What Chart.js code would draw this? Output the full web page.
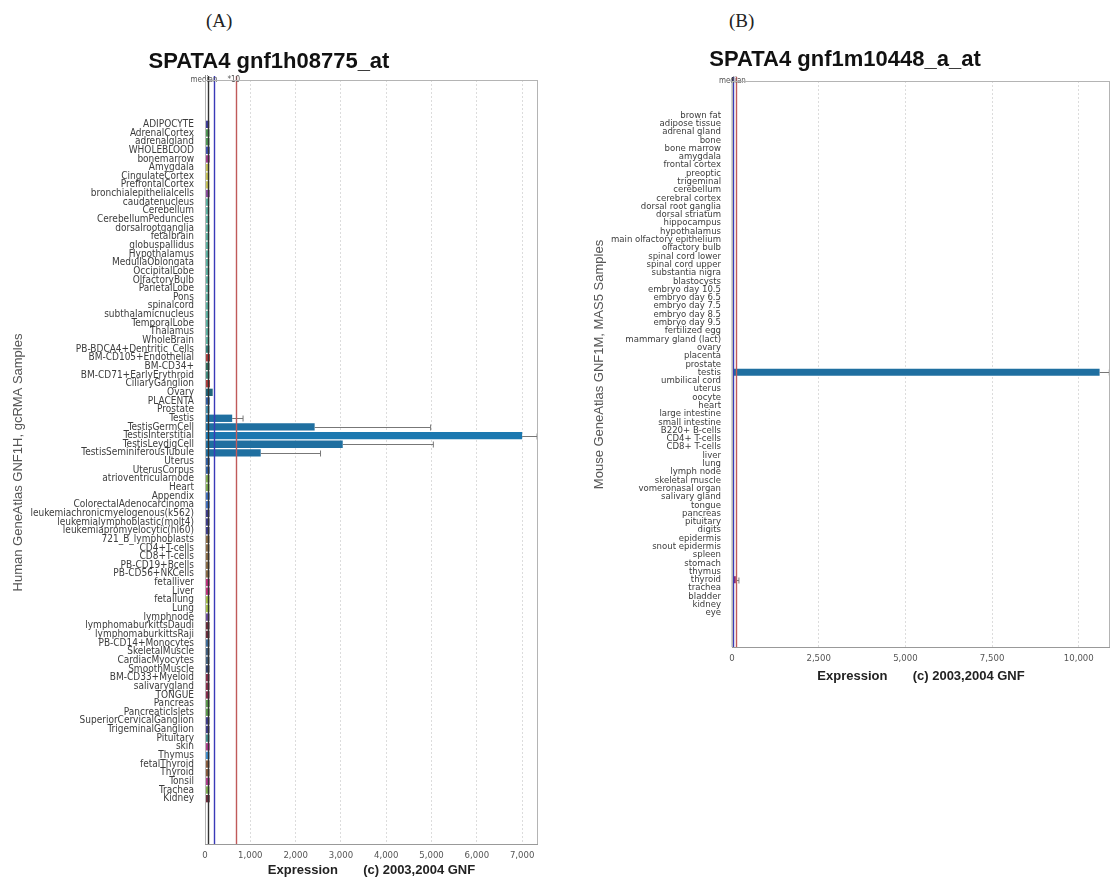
<!DOCTYPE html>
<html>
<head>
<meta charset="utf-8">
<script src="https://cdn.jsdelivr.net/npm/chart.js@4.4.1/dist/chart.umd.min.js"></script>
<style>
  body { margin: 0; background: #fff; width: 1111px; height: 882px; position: relative; overflow: hidden; }
  .panel { position: absolute; top: 0; height: 882px; }
  .tag { position: absolute; font: 19px "Liberation Serif", "DejaVu Serif", serif; color: #222; }
</style>
</head>
<body>
<div class="tag" style="left:206px;top:10px">(A)</div>
<div class="tag" style="left:729px;top:10px">(B)</div>
<div class="panel" style="left:0;width:560px"><canvas id="humanChart"></canvas></div>
<div class="panel" style="left:560px;width:551px"><canvas id="mouseChart"></canvas></div>

<script>
// ---- Human GNF1H data (panel A) ----
const humanTissues = [
  'ADIPOCYTE', 'AdrenalCortex', 'adrenalgland', 'WHOLEBLOOD', 'bonemarrow', 'Amygdala',
  'CingulateCortex', 'PrefrontalCortex', 'bronchialepithelialcells', 'caudatenucleus',
  'Cerebellum', 'CerebellumPeduncles', 'dorsalrootganglia', 'fetalbrain', 'globuspallidus',
  'Hypothalamus', 'MedullaOblongata', 'OccipitalLobe', 'OlfactoryBulb', 'ParietalLobe',
  'Pons', 'spinalcord', 'subthalamicnucleus', 'TemporalLobe', 'Thalamus', 'WholeBrain',
  'PB-BDCA4+Dentritic_Cells', 'BM-CD105+Endothelial', 'BM-CD34+', 'BM-CD71+EarlyErythroid',
  'CiliaryGanglion', 'Ovary', 'PLACENTA', 'Prostate', 'Testis', 'TestisGermCell',
  'TestisInterstitial', 'TestisLeydigCell', 'TestisSeminiferousTubule', 'Uterus',
  'UterusCorpus', 'atrioventricularnode', 'Heart', 'Appendix', 'ColorectalAdenocarcinoma',
  'leukemiachronicmyelogenous(k562)', 'leukemialymphoblastic(molt4)',
  'leukemiapromyelocytic(hl60)', '721_B_lymphoblasts', 'CD4+T-cells', 'CD8+T-cells',
  'PB-CD19+Bcells', 'PB-CD56+NKCells', 'fetalliver', 'Liver', 'fetallung', 'Lung',
  'lymphnode', 'lymphomaburkittsDaudi', 'lymphomaburkittsRaji', 'PB-CD14+Monocytes',
  'SkeletalMuscle', 'CardiacMyocytes', 'SmoothMuscle', 'BM-CD33+Myeloid', 'salivarygland',
  'TONGUE', 'Pancreas', 'PancreaticIslets', 'SuperiorCervicalGanglion', 'TrigeminalGanglion',
  'Pituitary', 'skin', 'Thymus', 'fetalThyroid', 'Thyroid', 'Tonsil', 'Trachea', 'Kidney'
];
const humanValues = [
  95, 100, 100, 105, 105, 95, 95, 95, 105, 95,
  95, 95, 100, 95, 95, 95, 95, 95, 95, 95,
  95, 95, 95, 95, 95, 95, 100, 110, 100, 100,
  110, 170, 105, 100, 600, 2420, 7000, 3040, 1230, 105,
  105, 100, 100, 105, 105, 100, 100, 100, 100, 100,
  100, 100, 100, 105, 105, 100, 100, 100, 100, 100,
  100, 100, 100, 100, 100, 100, 100, 105, 105, 100,
  100, 100, 105, 100, 100, 100, 105, 100, 105
];
const humanErrors = [
  0, 0, 0, 0, 0, 0, 0, 0, 0, 0,
  0, 0, 0, 0, 0, 0, 0, 0, 0, 0,
  0, 0, 0, 0, 0, 0, 0, 0, 0, 0,
  0, 0, 0, 0, 240, 2560, 330, 2000, 1320, 0,
  0, 0, 0, 0, 0, 0, 0, 0, 0, 0,
  0, 0, 0, 0, 0, 0, 0, 0, 0, 0,
  0, 0, 0, 0, 0, 0, 0, 0, 0, 0,
  0, 0, 0, 0, 0, 0, 0, 0, 0
];
const humanColors = [
  '#3c3c9c', '#4f9a55', '#4f9a55', '#3f4fb0', '#a03c8c', '#c9c455', '#c9c455', '#c9c455', '#8c4ca0', '#5cb5a5',
  '#5cb5a5', '#5cb5a5', '#5cb5a5', '#5cb5a5', '#5cb5a5', '#5cb5a5', '#5cb5a5', '#5cb5a5', '#5cb5a5', '#5cb5a5',
  '#5cb5a5', '#5cb5a5', '#5cb5a5', '#5cb5a5', '#5cb5a5', '#5cb5a5', '#2f7f7a', '#b03c3c', '#2f6f5f', '#3f8f80',
  '#b03c3c', '#1e6478', '#2f5fa5', '#3f8faf', '#1f6fa0', '#1f6fa0', '#1b78b0', '#1f6fa0', '#1f6fa0', '#2f5fa5',
  '#2f5fa5', '#7faf4f', '#7faf4f', '#3f6fc0', '#3f6fc0', '#3c3c8c', '#3c3c8c', '#3c3c8c', '#8c6c44', '#8c6c44',
  '#8c6c44', '#8c6c44', '#8c6c44', '#c0307c', '#c0307c', '#a5c045', '#a5c045', '#6c4ca0', '#6c2c3c', '#6c2c3c',
  '#3f6f9f', '#3f5f7f', '#3f5f7f', '#2f3f6f', '#8c2c4c', '#8c2c4c', '#8c2c4c', '#5c9c4c', '#5c9c4c', '#3c3c8c',
  '#3c3c8c', '#3f8f8f', '#b03c8c', '#3f8fcf', '#8c5c3c', '#8c5c3c', '#b03c8c', '#7faf4f', '#6c2c3c'
];
const humanTicks = [0, 1000, 2000, 3000, 4000, 5000, 6000, 7000];
const humanMedian = 68;

// ---- Mouse GNF1M data (panel B) ----
const mouseTissues = [
  'brown fat', 'adipose tissue', 'adrenal gland', 'bone', 'bone marrow', 'amygdala',
  'frontal cortex', 'preoptic', 'trigeminal', 'cerebellum', 'cerebral cortex',
  'dorsal root ganglia', 'dorsal striatum', 'hippocampus', 'hypothalamus',
  'main olfactory epithelium', 'olfactory bulb', 'spinal cord lower', 'spinal cord upper',
  'substantia nigra', 'blastocysts', 'embryo day 10.5', 'embryo day 6.5', 'embryo day 7.5',
  'embryo day 8.5', 'embryo day 9.5', 'fertilized egg', 'mammary gland (lact)', 'ovary',
  'placenta', 'prostate', 'testis', 'umbilical cord', 'uterus', 'oocyte', 'heart',
  'large intestine', 'small intestine', 'B220+ B-cells', 'CD4+ T-cells', 'CD8+ T-cells',
  'liver', 'lung', 'lymph node', 'skeletal muscle', 'vomeronasal organ', 'salivary gland',
  'tongue', 'pancreas', 'pituitary', 'digits', 'epidermis', 'snout epidermis', 'spleen',
  'stomach', 'thymus', 'thyroid', 'trachea', 'bladder', 'kidney', 'eye'
];
const mouseValues = [
  25, 25, 25, 25, 25, 25, 25, 25, 25, 25,
  25, 25, 25, 25, 25, 25, 25, 25, 25, 25,
  25, 25, 25, 25, 25, 25, 25, 25, 25, 25,
  25, 10600, 25, 25, 25, 25, 25, 25, 25, 25,
  25, 25, 25, 25, 25, 25, 25, 25, 25, 25,
  25, 25, 25, 25, 25, 25, 110, 25, 25, 25,
  25
];
const mouseErrors = [
  0, 0, 0, 0, 0, 0, 0, 0, 0, 0,
  0, 0, 0, 0, 0, 0, 0, 0, 0, 0,
  0, 0, 0, 0, 0, 0, 0, 0, 0, 0,
  0, 280, 0, 0, 0, 0, 0, 0, 0, 0,
  0, 0, 0, 0, 0, 0, 0, 0, 0, 0,
  0, 0, 0, 0, 0, 0, 90, 0, 0, 0,
  0
];
const mouseColors = [
  '#8c5c3c', '#3c3c9c', '#4f9a55', '#a03c8c', '#a03c8c', '#5cb5a5', '#5cb5a5', '#5cb5a5', '#5cb5a5', '#5cb5a5',
  '#5cb5a5', '#5cb5a5', '#5cb5a5', '#5cb5a5', '#5cb5a5', '#5cb5a5', '#5cb5a5', '#5cb5a5', '#5cb5a5', '#5cb5a5',
  '#c9c455', '#c9c455', '#c9c455', '#c9c455', '#c9c455', '#c9c455', '#c9c455', '#1e6478', '#1e6478', '#1e6478',
  '#1e6478', '#1f6fa0', '#2f5fa5', '#2f5fa5', '#2f5fa5', '#7faf4f', '#3f6fc0', '#3f6fc0', '#8c6c44', '#8c6c44',
  '#8c6c44', '#c0307c', '#a5c045', '#6c4ca0', '#3f5f7f', '#8c2c4c', '#8c2c4c', '#8c2c4c', '#5c9c4c', '#3f8f8f',
  '#b03c8c', '#b03c8c', '#b03c8c', '#3f8fcf', '#3f6fc0', '#3f8fcf', '#8c2c6c', '#7faf4f', '#6c2c3c', '#6c2c3c',
  '#5cb5a5'
];
const mouseTicks = [0, 2500, 5000, 7500, 10000];
const mouseMedian = 11;

// ---- plugins ----
const framePlugin = {
  id: 'frame',
  afterDraw(chart) {
    const { ctx, chartArea: a } = chart;
    ctx.save();
    ctx.strokeStyle = '#b4b4b4';
    ctx.lineWidth = 1;
    ctx.strokeRect(a.left + 0.5, a.top + 0.5, a.width - 1, a.height - 1);
    ctx.strokeStyle = '#999';
    ctx.beginPath();
    ctx.moveTo(a.left, a.bottom - 0.5);
    ctx.lineTo(a.right, a.bottom - 0.5);
    ctx.stroke();
    ctx.restore();
  }
};

const errorBarPlugin = {
  id: 'errorBars',
  afterDatasetsDraw(chart, args, opts) {
    const { ctx, scales: { x } } = chart;
    const meta = chart.getDatasetMeta(0);
    ctx.save();
    ctx.strokeStyle = '#777';
    ctx.lineWidth = 1;
    opts.errors.forEach((err, i) => {
      if (!err) return;
      const v = chart.data.datasets[0].data[i].x;
      const x0 = x.getPixelForValue(v);
      const x1 = x.getPixelForValue(v + err);
      const py = Math.round(meta.data[i].y) + 0.5;
      ctx.beginPath();
      ctx.moveTo(x0, py);
      ctx.lineTo(x1, py);
      ctx.moveTo(x1, py - 3);
      ctx.lineTo(x1, py + 3);
      ctx.stroke();
    });
    ctx.restore();
  }
};

const medianPlugin = {
  id: 'medianLines',
  afterDatasetsDraw(chart, args, opts) {
    const { ctx, chartArea: a, scales: { x } } = chart;
    ctx.save();
    ctx.font = '8px "DejaVu Sans Condensed", sans-serif';
    ctx.textBaseline = 'middle';
    ctx.textAlign = 'center';
    opts.lines.forEach(l => {
      const px = Math.round(x.getPixelForValue(l.value)) + 0.5;
      ctx.strokeStyle = l.color;
      ctx.lineWidth = 1.4;
      ctx.beginPath();
      ctx.moveTo(px, a.top - 4);
      ctx.lineTo(px, a.bottom - 1);
      ctx.stroke();
    });
    opts.lines.forEach(l => {
      if (!l.label) return;
      const px = x.getPixelForValue(l.value);
      ctx.fillStyle = '#555';
      ctx.fillText(l.label, px + (l.dx || 0), a.top);
    });
    ctx.restore();
  }
};

function buildChart(canvasId, o) {
  const points = o.values.map((v, i) => ({ x: v, y: i }));
  return new Chart(document.getElementById(canvasId), {
    type: 'bar',
    data: {
      datasets: [{
        data: points,
        backgroundColor: o.colors,
        borderWidth: 0,
        barPercentage: 0.85,
        categoryPercentage: 1
      }]
    },
    plugins: [framePlugin, errorBarPlugin, medianPlugin],
    options: {
      indexAxis: 'y',
      responsive: true,
      maintainAspectRatio: false,
      animation: false,
      layout: { padding: o.padding },
      plugins: {
        legend: { display: false },
        tooltip: { enabled: false },
        title: {
          display: true,
          text: o.title,
          color: '#111',
          font: { family: '"Liberation Sans", Arial, sans-serif', size: 22, weight: 'bold' },
          padding: o.titlePadding
        },
        errorBars: { errors: o.errors },
        medianLines: { lines: o.lines }
      },
      scales: {
        x: {
          type: 'linear',
          min: 0,
          max: o.xMax,
          afterFit: s => { s.height = o.xAxisHeight; },
          afterBuildTicks: s => { s.ticks = o.ticks.map(v => ({ value: v })); },
          ticks: {
            padding: 5,
            color: '#555',
            font: { family: '"DejaVu Sans Condensed", sans-serif', size: 9.5 },
            callback: v => v.toLocaleString('en-US')
          },
          grid: { color: '#dcdcdc', drawTicks: false },
          border: { display: false, dash: [2, 2] },
          title: {
            display: true,
            text: 'Expression       (c) 2003,2004 GNF',
            color: '#222',
            font: { family: '"Liberation Sans", Arial, sans-serif', size: 13, weight: 'bold' },
            padding: { top: 0, bottom: o.xTitlePad }
          }
        },
        y: {
          type: 'linear',
          reverse: true,
          min: o.yMin,
          max: o.yMax,
          afterFit: s => { s.width = o.yAxisWidth; },
          afterBuildTicks: s => { s.ticks = o.labels.map((t, i) => ({ value: i })); },
          grid: { display: false },
          border: { display: false },
          ticks: {
            autoSkip: false,
            padding: 3,
            color: '#3c3c3c',
            font: { family: '"DejaVu Sans Condensed", sans-serif', size: o.labelSize },
            callback: v => o.labels[v]
          },
          title: {
            display: true,
            text: o.yTitle,
            color: '#555',
            font: { family: '"Liberation Sans", Arial, sans-serif', size: 13 },
            padding: { top: o.yTitlePad, bottom: 0 }
          }
        }
      }
    }
  });
}

buildChart('humanChart', {
  title: 'SPATA4 gnf1h08775_at',
  labels: humanTissues,
  values: humanValues,
  errors: humanErrors,
  colors: humanColors,
  ticks: humanTicks,
  lines: [
    { value: humanMedian, color: '#333', label: 'median', dx: -4 },
    { value: humanMedian * 3, color: '#3a3ab8' },
    { value: humanMedian * 10, color: '#c05a5a', label: '*10', dx: -2 }
  ],
  xMax: 7350,
  yMin: -4.57,
  yMax: 82.8,
  yAxisWidth: 205,
  xAxisHeight: 37,
  xTitlePad: 4,
  yTitlePad: 11,
  labelSize: 10,
  yTitle: 'Human GeneAtlas GNF1H, gcRMA Samples',
  padding: { top: 0, right: 22, bottom: 0, left: 0 },
  titlePadding: { top: 49, bottom: 4.6 }
});

buildChart('mouseChart', {
  title: 'SPATA4 gnf1m10448_a_at',
  labels: mouseTissues,
  values: mouseValues,
  errors: mouseErrors,
  colors: mouseColors,
  ticks: mouseTicks,
  lines: [
    { value: mouseMedian, color: '#333', label: 'median', dx: 0 },
    { value: mouseMedian * 3, color: '#3a3ab8' },
    { value: mouseMedian * 10, color: '#c05a5a' }
  ],
  xMax: 10900,
  yMin: -3.56,
  yMax: 63.67,
  yAxisWidth: 152,
  xAxisHeight: 36,
  xTitlePad: 0,
  yTitlePad: 12,
  labelSize: 9.5,
  yTitle: 'Mouse GeneAtlas GNF1M, MAS5 Samples',
  padding: { top: 0, right: 1, bottom: 198, left: 20 },
  titlePadding: { top: 47, bottom: 7.6 }
});
</script>
</body>
</html>
